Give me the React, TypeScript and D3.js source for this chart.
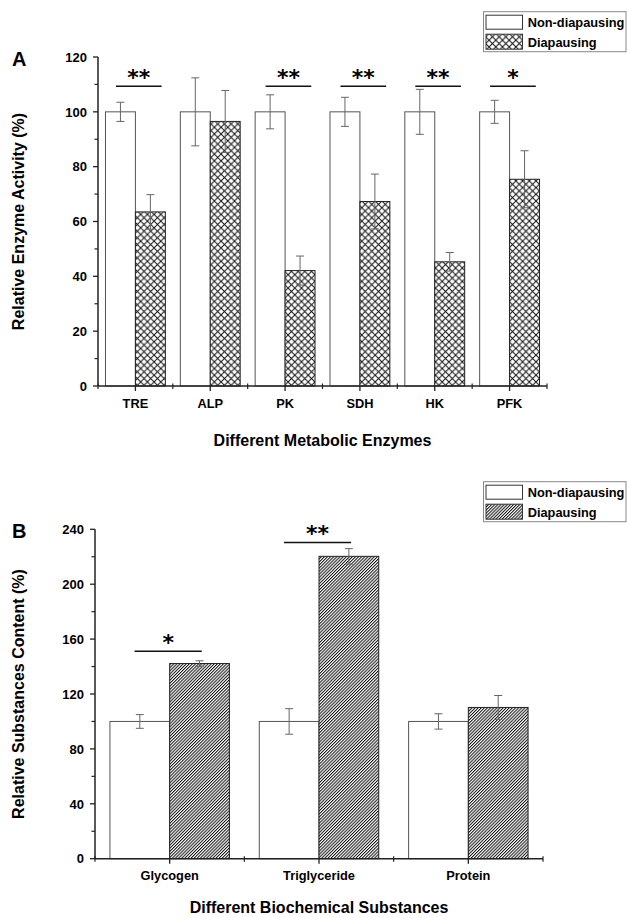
import React, { useMemo } from 'react';
import * as d3 from 'd3';

// ---------- data ----------
const enzymes = ['TRE', 'ALP', 'PK', 'SDH', 'HK', 'PFK'];
const enzymeNonMean = [100, 100, 100, 100, 100, 100];
const enzymeNonErr = [3.5, 12.4, 6.2, 5.3, 8.2, 4.2];
const enzymeDiaMean = [63.5, 96.5, 42.1, 67.3, 45.3, 75.4];
const enzymeDiaErr = [6.3, 11.3, 5.3, 10.0, 3.4, 10.4];
const enzymeSig = ['**', '', '**', '**', '**', '*'];
const enzymeSigLevel = [109.3, 0, 109.3, 109.3, 109.3, 109.3];
const enzymeTicks = [0, 20, 40, 60, 80, 100, 120];

const substances = ['Glycogen', 'Triglyceride', 'Protein'];
const subNonMean = [100, 100, 100];
const subNonErr = [5.0, 9.3, 5.6];
const subDiaMean = [142.2, 220.3, 110.2];
const subDiaErr = [2.0, 5.6, 8.7];
const subSig = ['*', '**', ''];
const subSigLevel = [151.2, 230.3, 0];
const subTicks = [0, 40, 80, 120, 160, 200, 240];

const legendLabels = ['Non-diapausing', 'Diapausing'];

const FONT = '"Liberation Sans", Arial, sans-serif';

interface PanelProps {
  letter: string;
  cats: string[];
  nonMean: number[];
  nonErr: number[];
  diaMean: number[];
  diaErr: number[];
  sig: string[];
  sigLevel: number[];
  ticks: number[];
  yMax: number;
  x0: number; x1: number; y0: number; y1: number; // plot box in px
  yTitle: string;
  xTitle: string;
  xTitleGap: number;
  hatch: string;
  sigWidth: number; // fraction of band
  sigShift: number; // fraction of band
  legendTop: number;
}

const Panel: React.FC<PanelProps> = (p) => {
  const x = useMemo(() => d3.scaleBand().domain(p.cats).range([p.x0, p.x1]), [p.cats, p.x0, p.x1]);
  const y = useMemo(() => d3.scaleLinear().domain([0, p.yMax]).range([p.y0, p.y1]), [p.yMax, p.y0, p.y1]);
  const bw = x.bandwidth();
  const step = p.ticks[1] - p.ticks[0];
  const minor = d3.range(step / 2, p.yMax, step);
  const cap = 4;

  const errBar = (cx: number, m: number, e: number, key: string) => (
    <g key={key} stroke="#666" strokeWidth={1}>
      <line x1={cx} x2={cx} y1={y(m - e)} y2={y(m + e)} />
      <line x1={cx - cap} x2={cx + cap} y1={y(m + e)} y2={y(m + e)} />
      <line x1={cx - cap} x2={cx + cap} y1={y(m - e)} y2={y(m - e)} />
    </g>
  );

  const midX = (p.x0 + p.x1) / 2;
  const midY = (p.y0 + p.y1) / 2;
  const lt = p.legendTop;

  return (
    <g fontFamily={FONT} fontWeight="bold">
      <text x={12} y={p.y1 + 9} fontSize={20}>{p.letter}</text>

      {/* bars */}
      {p.cats.map((c, i) => {
        const bx = x(c)!;
        return (
          <g key={c}>
            <rect x={bx + bw * 0.1} y={y(p.nonMean[i])} width={bw * 0.4} height={p.y0 - y(p.nonMean[i])}
              fill="white" stroke="#555" strokeWidth={1} />
            <rect x={bx + bw * 0.5} y={y(p.diaMean[i])} width={bw * 0.4} height={p.y0 - y(p.diaMean[i])}
              fill={`url(#${p.hatch})`} stroke="#222" strokeWidth={1} />
            {errBar(bx + bw * 0.3, p.nonMean[i], p.nonErr[i], 'n')}
            {errBar(bx + bw * 0.7, p.diaMean[i], p.diaErr[i], 'd')}
            {p.sig[i] && (
              <g>
                <line x1={bx + bw * (0.5 + p.sigShift - p.sigWidth / 2)} x2={bx + bw * (0.5 + p.sigShift + p.sigWidth / 2)}
                  y1={y(p.sigLevel[i])} y2={y(p.sigLevel[i])} stroke="#111" strokeWidth={1.5} />
                <text x={bx + bw * (0.5 + p.sigShift)} y={y(p.sigLevel[i]) - 1.5} textAnchor="middle"
                  fontFamily='"DejaVu Sans", sans-serif' fontSize={22}>{p.sig[i]}</text>
              </g>
            )}
          </g>
        );
      })}

      {/* y axis */}
      <line x1={p.x0} x2={p.x0} y1={p.y0} y2={p.y1} stroke="#222" strokeWidth={1.5} />
      {p.ticks.map(t => (
        <g key={`yt${t}`}>
          <line x1={p.x0 - 5} x2={p.x0} y1={y(t)} y2={y(t)} stroke="#222" strokeWidth={1.3} />
          <text x={p.x0 - 11} y={y(t) + 4.7} textAnchor="end" fontSize={13}>{t}</text>
        </g>
      ))}
      {minor.map(t => (
        <line key={`ym${t}`} x1={p.x0 - 3.5} x2={p.x0} y1={y(t)} y2={y(t)} stroke="#222" strokeWidth={1.2} />
      ))}

      {/* x axis */}
      <line x1={p.x0} x2={p.x1} y1={p.y0} y2={p.y0} stroke="#222" strokeWidth={1.5} />
      {p.cats.map(c => (
        <g key={`xt${c}`}>
          <line x1={x(c)! + bw / 2} x2={x(c)! + bw / 2} y1={p.y0} y2={p.y0 + 5} stroke="#222" strokeWidth={1.3} />
          <text x={x(c)! + bw / 2} y={p.y0 + 21.7} textAnchor="middle" fontSize={12.8}>{c}</text>
        </g>
      ))}
      {d3.range(p.cats.length + 1).map(i => (
        <line key={`xm${i}`} x1={p.x0 + i * bw} x2={p.x0 + i * bw} y1={p.y0 - 2.5} y2={p.y0 + 3}
          stroke="#222" strokeWidth={1.2} />
      ))}

      {/* titles */}
      <text x={midX} y={p.y0 + p.xTitleGap} textAnchor="middle" fontSize={16}>{p.xTitle}</text>
      <text transform={`translate(24,${midY}) rotate(-90)`} textAnchor="middle" fontSize={16}>{p.yTitle}</text>

      {/* legend */}
      <rect x={483.5} y={lt} width={142.5} height={40} fill="white" stroke="#888" strokeWidth={1} />
      <rect x={486} y={lt + 3.5} width={36.5} height={14} fill="white" stroke="#333" strokeWidth={1} />
      <rect x={486} y={lt + 22.5} width={36.5} height={15} fill={`url(#${p.hatch})`} stroke="#333" strokeWidth={1} />
      <text x={527.7} y={lt + 15.6} fontSize={12.8}>{legendLabels[0]}</text>
      <text x={527.7} y={lt + 35.5} fontSize={12.8}>{legendLabels[1]}</text>
    </g>
  );
};

const App: React.FC = () => (
  <svg width={627} height={918} style={{ display: 'block', position: 'absolute', left: 0, top: 0, background: 'white' }}>
    <defs>
      <pattern id="cross" patternUnits="userSpaceOnUse" width={6.7} height={6.7}>
        <rect width={6.7} height={6.7} fill="white" />
        <path d="M0,0L6.7,6.7M0,6.7L6.7,0" stroke="#111" strokeWidth={1} />
      </pattern>
      <pattern id="diag" patternUnits="userSpaceOnUse" width={2.2} height={10} patternTransform="rotate(45)">
        <rect width={2.2} height={10} fill="white" />
        <line x1={0.5} x2={0.5} y1={0} y2={10} stroke="#111" strokeWidth={1} />
      </pattern>
    </defs>
    <rect width={627} height={918} fill="white" />
    <Panel
      letter="A" cats={enzymes} nonMean={enzymeNonMean} nonErr={enzymeNonErr}
      diaMean={enzymeDiaMean} diaErr={enzymeDiaErr} sig={enzymeSig} sigLevel={enzymeSigLevel}
      ticks={enzymeTicks} yMax={120} x0={98} x1={547} y0={386} y1={57}
      yTitle="Relative Enzyme Activity (%)" xTitle="Different Metabolic Enzymes" xTitleGap={60}
      hatch="cross" sigWidth={0.61} sigShift={0.045} legendTop={11.7}
    />
    <Panel
      letter="B" cats={substances} nonMean={subNonMean} nonErr={subNonErr}
      diaMean={subDiaMean} diaErr={subDiaErr} sig={subSig} sigLevel={subSigLevel}
      ticks={subTicks} yMax={240} x0={95} x1={543} y0={858.7} y1={529.3}
      yTitle="Relative Substances Content (%)" xTitle="Different Biochemical Substances" xTitleGap={54}
      hatch="diag" sigWidth={0.45} sigShift={-0.01} legendTop={481.7}
    />
  </svg>
);

export default App;
